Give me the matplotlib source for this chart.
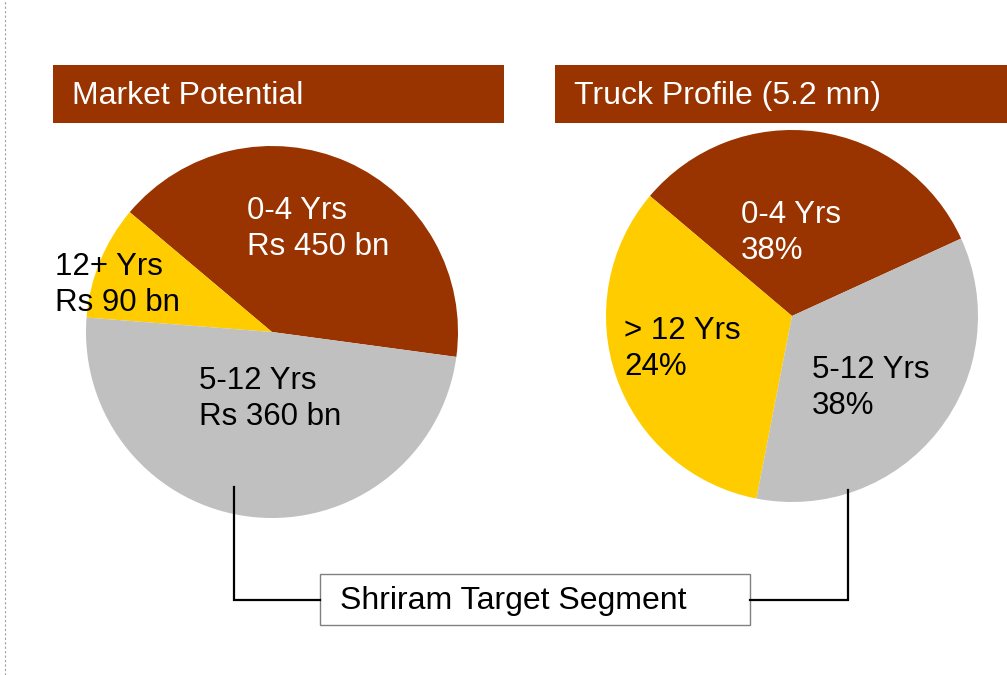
import matplotlib.pyplot as plt
from matplotlib.patches import Rectangle

plt.rcParams['font.family'] = ['Liberation Sans', 'DejaVu Sans']

BROWN = '#993300'
YELLOW = '#ffcc00'
GREY = '#c0c0c0'

# slice shares as drawn in the picture (degrees of arc / 360)
market_labels = ['0-4 Yrs\nRs 450 bn', '12+ Yrs\nRs 90 bn', '5-12 Yrs\nRs 360 bn']
market_shares = [41.0, 9.9, 49.1]
market_colors = [BROWN, YELLOW, GREY]

truck_labels = ['0-4 Yrs\n38%', '> 12 Yrs\n24%', '5-12 Yrs\n38%']
truck_shares = [32.0, 33.1, 34.9]
truck_colors = [BROWN, YELLOW, GREY]

titles = ['Market Potential', 'Truck Profile (5.2 mn)']
target_text = 'Shriram Target Segment'

W, H = 1007, 675
fig = plt.figure(figsize=(W / 100, H / 100), dpi=100)
ax = fig.add_axes([0, 0, 1, 1])


def py(y):
    # pixel row (from top) to data y
    return H - y


# dotted guide line on the left edge
ax.plot([5, 5], [0, H], color='#a0a0a0', lw=0.8, ls=(0, (2, 2)))

# title bars
for x0, x1, title in [(53, 504, titles[0]), (555, 1007, titles[1])]:
    ax.add_patch(Rectangle((x0, py(123)), x1 - x0, 58, facecolor=BROWN, edgecolor='none'))
    ax.text(x0 + 19, py(96), title, color='white', fontsize=23, va='center', ha='left')

# pies
ax.pie(market_shares, colors=market_colors, startangle=-7.7, counterclock=True,
       center=(272, py(332)), radius=186, wedgeprops=dict(linewidth=0))
ax.pie(truck_shares, colors=truck_colors, startangle=24.6, counterclock=True,
       center=(792, py(316)), radius=186, wedgeprops=dict(linewidth=0))

market_pos = [(247, 229), (55, 285), (199, 399)]
market_txtc = ['white', 'black', 'black']
for (x, y), lab, c in zip(market_pos, market_labels, market_txtc):
    ax.text(x, py(y), lab, color=c, fontsize=22.5, ha='left', va='center', linespacing=1.27)

truck_pos = [(741, 233), (624, 349), (812, 388)]
truck_txtc = ['white', 'black', 'black']
for (x, y), lab, c in zip(truck_pos, truck_labels, truck_txtc):
    ax.text(x, py(y), lab, color=c, fontsize=22.5, ha='left', va='center', linespacing=1.27)

# connector lines and box
ax.plot([234, 234, 320], [py(487), py(600), py(600)], color='black', lw=1.6, solid_joinstyle='miter')
ax.plot([750, 848, 848], [py(600), py(600), py(490)], color='black', lw=1.6, solid_joinstyle='miter')
ax.add_patch(Rectangle((320, py(625)), 430, 51, facecolor='white', edgecolor='#808080', lw=1))
ax.text(340, py(601), target_text, fontsize=23, ha='left', va='center', color='black')

ax.set_xlim(0, W)
ax.set_ylim(0, H)
ax.set_aspect('auto')
ax.axis('off')

fig.savefig('out.png', dpi=100)
